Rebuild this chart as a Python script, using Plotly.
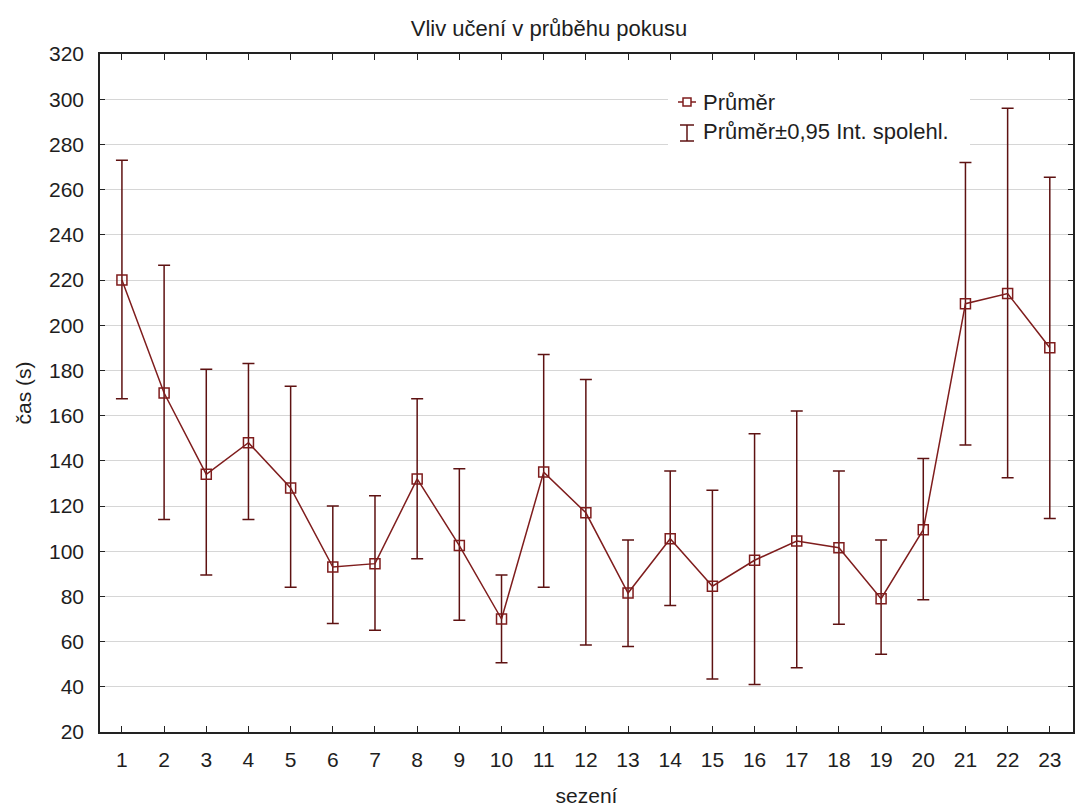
import plotly.graph_objects as go

# Session numbers and per-session statistics of time (s)
sessions = list(range(1, 24))
mean_time = [220, 170, 134, 148, 128, 93, 94.5, 132, 102.5, 70, 135, 117,
             81.5, 105.5, 84.5, 96, 104.5, 101.5, 79, 109.5, 209.5, 214, 190]
ci_upper = [273, 226.5, 180.5, 183, 173, 120, 124.5, 167.5, 136.5, 89.5, 187, 176,
            105, 135.5, 127, 152, 162, 135.5, 105, 141, 272, 296, 265.5]
ci_lower = [167.5, 114, 89.5, 114, 84, 68, 65, 96.7, 69.5, 50.6, 84, 58.5,
            57.8, 76, 43.5, 41, 48.4, 67.7, 54.4, 78.5, 147, 132.5, 114.5]

y_ticks = list(range(20, 321, 20))

LINE_COLOR = "#7f1d1d"
BAR_COLOR = "#5e1212"
FONT = "Liberation Sans, Arial, sans-serif"
TEXT_COLOR = "#1e1e1e"

err_plus = [u - m for u, m in zip(ci_upper, mean_time)]
err_minus = [m - l for m, l in zip(mean_time, ci_lower)]

fig = go.Figure()

fig.add_trace(go.Scatter(
    x=sessions,
    y=mean_time,
    mode="lines+markers",
    name="Průměr",
    line=dict(color=LINE_COLOR, width=1.5),
    marker=dict(symbol="square-open", size=10, color=LINE_COLOR,
                line=dict(width=1.5, color=LINE_COLOR)),
    error_y=dict(type="data", symmetric=False, array=err_plus, arrayminus=err_minus,
                 color=BAR_COLOR, thickness=1.5, width=6),
    showlegend=False,
))

# Hand-drawn legend box (paper coordinates)
shapes = []
annotations = []

def px_x(px):
    return (px - 100) / (1073 - 100)

def px_y(py):
    return 1 - (py - 54) / (732 - 54)

shapes.append(dict(type="rect", xref="paper", yref="paper",
                   x0=px_x(668), x1=px_x(970), y0=px_y(152), y1=px_y(86),
                   fillcolor="white", line=dict(width=0), layer="above"))
# entry 1: line + square marker
shapes.append(dict(type="line", xref="paper", yref="paper",
                   x0=px_x(678), x1=px_x(696), y0=px_y(102), y1=px_y(102),
                   line=dict(color=LINE_COLOR, width=1.5), layer="above"))
shapes.append(dict(type="rect", xref="paper", yref="paper",
                   x0=px_x(683), x1=px_x(691), y0=px_y(106), y1=px_y(98),
                   fillcolor="white", line=dict(color=LINE_COLOR, width=1.5), layer="above"))
# entry 2: I-beam error bar
for (xa, ya, xb, yb) in [(687, 125, 687, 141), (680, 125, 694, 125), (680, 141, 694, 141)]:
    shapes.append(dict(type="line", xref="paper", yref="paper",
                       x0=px_x(xa), x1=px_x(xb), y0=px_y(ya), y1=px_y(yb),
                       line=dict(color=BAR_COLOR, width=1.5), layer="above"))
annotations.append(dict(text="Průměr", xref="paper", yref="paper",
                        x=px_x(701), y=px_y(102), xanchor="left", yanchor="middle",
                        showarrow=False, font=dict(size=22, color=TEXT_COLOR, family=FONT)))
annotations.append(dict(text="Průměr±0,95 Int. spolehl.", xref="paper", yref="paper",
                        x=px_x(701), y=px_y(131), xanchor="left", yanchor="middle",
                        showarrow=False, font=dict(size=22, color=TEXT_COLOR, family=FONT)))

fig.update_layout(
    width=1086,
    height=810,
    margin=dict(l=100, r=13, t=54, b=78),
    paper_bgcolor="white",
    plot_bgcolor="white",
    font=dict(family=FONT, size=21, color=TEXT_COLOR),
    title=dict(text="Vliv učení v průběhu pokusu", x=549 / 1086, xref="container",
               xanchor="center", y=1 - 28 / 810, yanchor="middle", yref="container",
               font=dict(size=22, color=TEXT_COLOR, family=FONT)),
    shapes=shapes,
    annotations=annotations,
    xaxis=dict(
        range=[0.48, 23.55],
        tickvals=sessions,
        ticktext=[str(s) for s in sessions],
        ticks="inside", ticklen=6, tickwidth=1.2, tickcolor="#222",
        showline=True, linecolor="#222", linewidth=1.5, mirror="ticks",
        showgrid=False, zeroline=False,
        automargin=False,
        ticklabelstandoff=8,
        tickfont=dict(size=21),
        title=dict(text="sezení", standoff=18, font=dict(size=21, color=TEXT_COLOR)),
    ),
    yaxis=dict(
        range=[20, 320],
        tickvals=y_ticks,
        ticks="inside", ticklen=5, tickwidth=1.2, tickcolor="#222",
        showline=True, linecolor="#222", linewidth=1.5, mirror="ticks",
        showgrid=True, gridcolor="#d6d6d6", gridwidth=1.2,
        zeroline=False,
        automargin=False,
        ticklabelstandoff=10,
        tickfont=dict(size=21),
        title=dict(text="čas (s)", standoff=12, font=dict(size=21, color=TEXT_COLOR)),
    ),
)

fig.write_html("out.html")
